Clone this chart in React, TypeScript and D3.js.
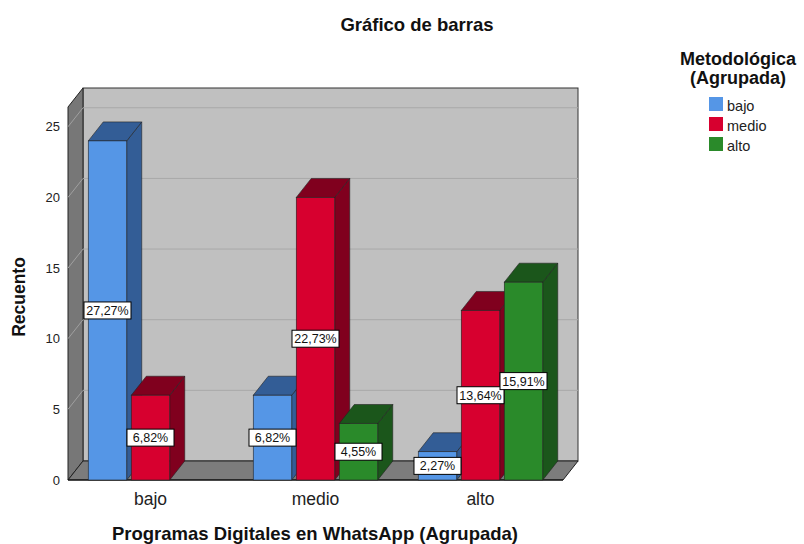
import React from 'react';
import * as d3 from 'd3';

// counts per category of "Programas Digitales en WhatsApp (Agrupada)"
const categories = ['bajo', 'medio', 'alto'];
const seriesNames = ['bajo', 'medio', 'alto'];
const bajoCounts = [24, 6, 2];
const medioCounts = [6, 20, 12];
const altoCounts = [0, 4, 14];
const yTicks = [0, 5, 10, 15, 20, 25];

const seriesValues = [bajoCounts, medioCounts, altoCounts];
const frontColors = ['#5596e6', '#d7002f', '#2a8a2a'];
const darkColors = ['#335d96', '#80001e', '#1b561b'];

const W = 804;
const H = 544;
const DX = 15;
const DY = -19;
const FONT = '"Liberation Sans", Arial, sans-serif';

const total = d3.sum(seriesValues.flat());
const fmtPct = (v: number) => (v / total * 100).toFixed(2).replace('.', ',') + '%';

const App = () => {
  const x = d3.scaleBand<string>().domain(categories).range([68, 563]).padding(0);
  const inner = d3.scaleBand<string>().domain(seriesNames).range([-62.25, 62.25]).paddingInner(0.105);
  const y = d3.scaleLinear().domain([0, 26.4]).range([480, 107]);

  const x0 = x.range()[0];
  const x1 = x.range()[1];
  const yb = y(0);
  const yt = y(26.4);

  const pts = (p: number[][]) => p.map(d => d.join(',')).join(' ');

  const bars: any[] = [];
  categories.forEach((c, ci) => {
    seriesNames.forEach((s, si) => {
      const v = seriesValues[si][ci];
      if (!v) return;
      const bx = (x(c) as number) + x.bandwidth() / 2 + (inner(s) as number);
      const bw = inner.bandwidth();
      bars.push({ key: c + s, bx, bw, top: y(v), v, si });
    });
  });

  return (
    <svg width={W} height={H} style={{ position: 'absolute', left: 0, top: 0, background: '#fff' }}>
      <text x={417} y={31} textAnchor="middle" fontFamily={FONT} fontWeight="bold" fontSize={18.5} fill="#111">Gráfico de barras</text>

      {/* back wall */}
      <rect x={x0 + DX} y={yt + DY} width={x1 - x0} height={yb - yt} fill="#c0c0c0" stroke="#333" strokeWidth={1} />
      {/* left wall */}
      <polygon points={pts([[x0, yt], [x0 + DX, yt + DY], [x0 + DX, yb + DY], [x0, yb]])} fill="#777" stroke="#222" strokeWidth={1} />
      {/* floor */}
      <polygon points={pts([[x0, yb], [x0 + DX, yb + DY], [x1 + DX, yb + DY], [x1, yb]])} fill="#7c7c7c" stroke="#222" strokeWidth={1} />

      {yTicks.filter(t => t > 0).map(t => (
        <g key={t}>
          <line x1={x0 + DX} x2={x1 + DX} y1={y(t) + DY} y2={y(t) + DY} stroke="#a8a8a8" strokeWidth={1} />
          <line x1={x0} x2={x0 + DX} y1={y(t)} y2={y(t) + DY} stroke="#a0a0a0" strokeWidth={1} />
        </g>
      ))}
      <line x1={x0} x2={x1} y1={yb} y2={yb} stroke="#000" strokeWidth={1.2} />

      {yTicks.map(t => (
        <text key={t} x={60} y={y(t) + 4.5} textAnchor="end" fontFamily={FONT} fontSize={13} fill="#222">{t}</text>
      ))}

      {bars.map(b => (
        <g key={b.key}>
          <polygon points={pts([[b.bx + b.bw, b.top], [b.bx + b.bw + DX, b.top + DY], [b.bx + b.bw + DX, yb + DY], [b.bx + b.bw, yb]])}
            fill={darkColors[b.si]} stroke="#222" strokeWidth={0.6} />
          <polygon points={pts([[b.bx, b.top], [b.bx + DX, b.top + DY], [b.bx + b.bw + DX, b.top + DY], [b.bx + b.bw, b.top]])}
            fill={darkColors[b.si]} stroke="#222" strokeWidth={0.6} />
          <rect x={b.bx} y={b.top} width={b.bw} height={yb - b.top} fill={frontColors[b.si]} stroke="#222" strokeWidth={0.6} />
        </g>
      ))}

      {bars.map(b => {
        const cx = b.bx + b.bw / 2;
        const cy = (b.top + yb) / 2;
        const bw = 47;
        return (
          <g key={'l' + b.key}>
            <rect x={cx - bw / 2} y={cy - 8.5} width={bw} height={17} fill="#fff" stroke="#000" strokeWidth={1} />
            <text x={cx} y={cy + 4.5} textAnchor="middle" fontFamily={FONT} fontSize={12.5} fill="#111">{fmtPct(b.v)}</text>
          </g>
        );
      })}

      {categories.map(c => (
        <text key={c} x={(x(c) as number) + x.bandwidth() / 2} y={504.5} textAnchor="middle" fontFamily={FONT} fontSize={17.5} fill="#222">{c}</text>
      ))}

      <text transform="translate(25,297) rotate(-90)" textAnchor="middle" fontFamily={FONT} fontWeight="bold" fontSize={17.5} fill="#111">Recuento</text>
      <text x={315} y={539.5} textAnchor="middle" fontFamily={FONT} fontWeight="bold" fontSize={18.5} fill="#111">Programas Digitales en WhatsApp (Agrupada)</text>

      <text x={738} y={65} textAnchor="middle" fontFamily={FONT} fontWeight="bold" fontSize={18} fill="#111">Metodológica</text>
      <text x={738} y={84} textAnchor="middle" fontFamily={FONT} fontWeight="bold" fontSize={18} fill="#111">(Agrupada)</text>
      {seriesNames.map((s, i) => (
        <g key={s} transform={`translate(709,${97 + i * 20})`}>
          <rect width={14} height={14} fill={frontColors[i]} />
          <text x={18} y={13.5} fontFamily={FONT} fontSize={14.5} fill="#222">{s}</text>
        </g>
      ))}
    </svg>
  );
};

export default App;
